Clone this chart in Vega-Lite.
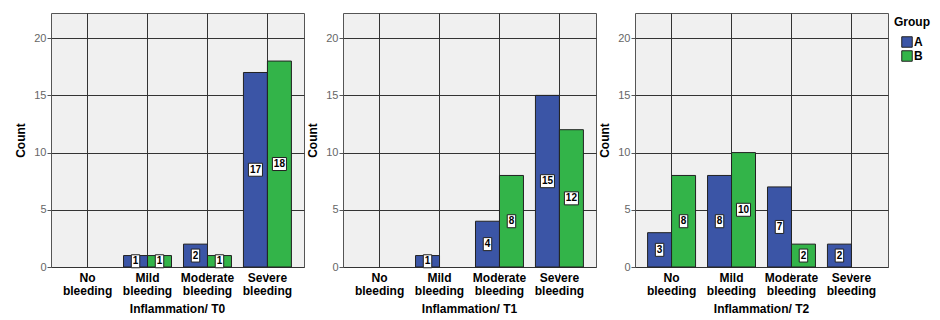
{
  "$schema": "https://vega.github.io/schema/vega-lite/v6.json",
  "padding": {"left": 14, "top": 12, "right": 2, "bottom": 2},
  "data": {
    "values": [
      {"Time": "T0", "Level": "Mild bleeding", "Group": "A", "Count": 1},
      {"Time": "T0", "Level": "Mild bleeding", "Group": "B", "Count": 1},
      {"Time": "T0", "Level": "Moderate bleeding", "Group": "A", "Count": 2},
      {"Time": "T0", "Level": "Moderate bleeding", "Group": "B", "Count": 1},
      {"Time": "T0", "Level": "Severe bleeding", "Group": "A", "Count": 17},
      {"Time": "T0", "Level": "Severe bleeding", "Group": "B", "Count": 18},
      {"Time": "T1", "Level": "Mild bleeding", "Group": "A", "Count": 1},
      {"Time": "T1", "Level": "Moderate bleeding", "Group": "A", "Count": 4},
      {"Time": "T1", "Level": "Moderate bleeding", "Group": "B", "Count": 8},
      {"Time": "T1", "Level": "Severe bleeding", "Group": "A", "Count": 15},
      {"Time": "T1", "Level": "Severe bleeding", "Group": "B", "Count": 12},
      {"Time": "T2", "Level": "No bleeding", "Group": "A", "Count": 3},
      {"Time": "T2", "Level": "No bleeding", "Group": "B", "Count": 8},
      {"Time": "T2", "Level": "Mild bleeding", "Group": "A", "Count": 8},
      {"Time": "T2", "Level": "Mild bleeding", "Group": "B", "Count": 10},
      {"Time": "T2", "Level": "Moderate bleeding", "Group": "A", "Count": 7},
      {"Time": "T2", "Level": "Moderate bleeding", "Group": "B", "Count": 2},
      {"Time": "T2", "Level": "Severe bleeding", "Group": "A", "Count": 2}
    ]
  },
  "facet": {
    "column": {
      "field": "Time",
      "type": "nominal",
      "header": {
        "title": null,
        "labelOrient": "bottom",
        "labelExpr": "'Inflammation/ ' + datum.value",
        "labelFont": "Liberation Sans",
        "labelFontWeight": "bold",
        "labelFontSize": 12,
        "labelColor": "#000",
        "labelPadding": 8
      }
    }
  },
  "spacing": 1,
  "resolve": {"axis": {"y": "independent"}},
  "spec": {
    "width": 253,
    "height": 254,
    "resolve": {"scale": {"y": "independent"}},
    "layer": [
      {
        "mark": {"type": "bar", "stroke": "#222", "strokeWidth": 1},
        "encoding": {
          "x": {
            "field": "Level",
            "type": "nominal",
            "scale": {"domain": ["No bleeding", "Mild bleeding", "Moderate bleeding", "Severe bleeding"], "paddingInner": 0.2, "paddingOuter": 0.21},
            "axis": {
              "title": null,
              "labelExpr": "split(datum.label, ' ')",
              "labelFont": "Liberation Sans",
              "labelFontWeight": "bold",
              "labelFontSize": 12,
              "labelColor": "#000",
              "labelAngle": 0,
              "labelPadding": -4,
              "labelLineHeight": 13,
              "bandPosition": 0.5,
              "grid": true,
              "gridColor": "#333",
              "gridOpacity": 1,
              "tickSize": 3,
              "tickColor": "#555",
              "domain": false
            }
          },
          "xOffset": {"field": "Group", "type": "nominal", "scale": {"domain": ["A", "B"]}},
          "y": {
            "field": "Count",
            "type": "quantitative",
            "scale": {"domain": [0, 22.2], "nice": false},
            "axis": {
              "title": "Count",
              "titleFont": "Liberation Sans",
              "titleFontWeight": "bold",
              "titleFontSize": 12,
              "titleColor": "#000",
              "titlePadding": 6,
              "values": [0, 5, 10, 15, 20],
              "labelFont": "Liberation Sans",
              "labelFontSize": 11,
              "labelColor": "#666",
              "labelPadding": 1,
              "tickSize": 4,
              "tickColor": "#555",
              "grid": true,
              "gridColor": "#333",
              "gridOpacity": 1,
              "domain": false
            }
          },
          "color": {
            "field": "Group",
            "type": "nominal",
            "scale": {"domain": ["A", "B"], "range": ["#3b55a6", "#33b449"]},
            "legend": {
              "title": "Group",
              "titleFont": "Liberation Sans",
              "titleFontWeight": "bold",
              "titleFontSize": 12,
              "titleColor": "#000",
              "titlePadding": 7,
              "labelFont": "Liberation Sans",
              "labelFontWeight": "bold",
              "labelFontSize": 12,
              "labelColor": "#000",
              "labelOffset": 1,
              "symbolType": "square",
              "symbolSize": 110,
              "symbolStrokeColor": "#222",
              "symbolStrokeWidth": 1,
              "symbolOffset": 7,
              "rowPadding": -3,
              "offset": 1,
              "padding": 4
            }
          }
        }
      },
      {
        "mark": {"type": "point", "filled": true, "fill": "white", "stroke": "#222", "strokeWidth": 1, "opacity": 1},
        "encoding": {
          "x": {"field": "Level", "type": "nominal"},
          "xOffset": {"field": "Group", "type": "nominal", "scale": {"domain": ["A", "B"]}},
          "y": {"field": "Count", "type": "quantitative", "scale": {"domain": [0, 44.4], "nice": false}, "axis": null},
          "size": {"value": 169},
          "shape": {"condition": {"test": "datum.Count >= 10", "value": "M-1.08,-1H1.08V1H-1.08Z"}, "value": "M-0.65,-1H0.65V1H-0.65Z"}
        }
      },
      {
        "mark": {"type": "text", "font": "Liberation Sans", "fontWeight": "bold", "fontSize": 10, "color": "#000", "baseline": "middle", "align": "center"},
        "encoding": {
          "x": {"field": "Level", "type": "nominal"},
          "xOffset": {"field": "Group", "type": "nominal", "scale": {"domain": ["A", "B"]}},
          "y": {"field": "Count", "type": "quantitative", "scale": {"domain": [0, 44.4], "nice": false}, "axis": null},
          "text": {"field": "Count", "type": "quantitative"}
        }
      }
    ]
  },
  "config": {
    "view": {"fill": "#f0f0f0", "stroke": "#555", "strokeWidth": 1},
    "background": "white"
  }
}
